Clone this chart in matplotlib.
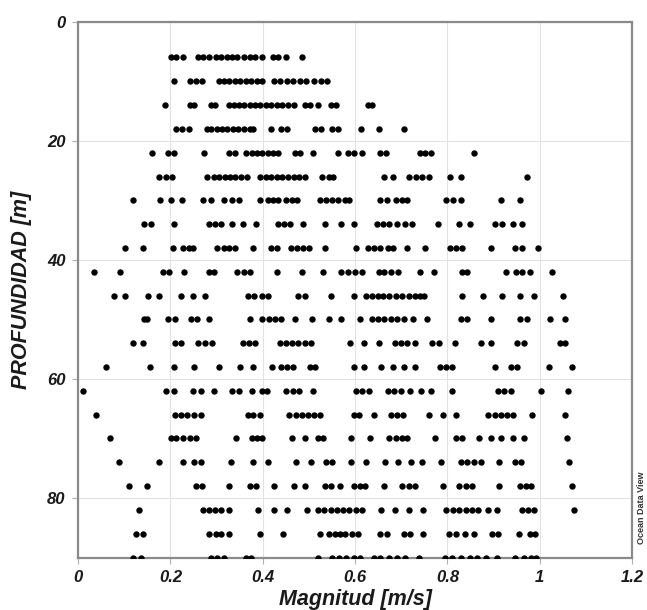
import matplotlib
matplotlib.use('Agg')
import matplotlib.pyplot as plt
from matplotlib.ticker import FuncFormatter

# Magnitude values (m/s) per depth level (m)
m06 = [0.202, 0.213, 0.227, 0.260, 0.271, 0.284, 0.298, 0.310, 0.322, 0.333, 0.345, 0.359,
       0.372, 0.384, 0.398, 0.422, 0.434, 0.451, 0.484]
m10 = [0.208, 0.243, 0.256, 0.269, 0.305, 0.316, 0.327, 0.339, 0.351, 0.363, 0.374, 0.388,
       0.399, 0.424, 0.438, 0.452, 0.465, 0.481, 0.494, 0.512, 0.527, 0.540]
m14 = [0.188, 0.243, 0.252, 0.287, 0.297, 0.326, 0.337, 0.349, 0.360, 0.372, 0.384, 0.395,
       0.407, 0.419, 0.430, 0.442, 0.455, 0.467, 0.492, 0.502, 0.519, 0.547, 0.558, 0.628, 0.636]
m18 = [0.213, 0.226, 0.240, 0.279, 0.289, 0.300, 0.312, 0.323, 0.336, 0.347, 0.359, 0.372,
       0.380, 0.419, 0.440, 0.453, 0.514, 0.527, 0.550, 0.564, 0.612, 0.651, 0.707]
m22 = [0.161, 0.194, 0.207, 0.273, 0.326, 0.339, 0.364, 0.376, 0.388, 0.399, 0.411, 0.422,
       0.434, 0.469, 0.481, 0.508, 0.564, 0.585, 0.597, 0.616, 0.653, 0.667, 0.740, 0.752,
       0.765, 0.857]
m26 = [0.176, 0.190, 0.204, 0.279, 0.295, 0.306, 0.318, 0.329, 0.341, 0.353, 0.366, 0.395,
       0.407, 0.419, 0.430, 0.442, 0.455, 0.467, 0.479, 0.491, 0.529, 0.543, 0.553, 0.663,
       0.682, 0.717, 0.731, 0.744, 0.760, 0.806, 0.829, 0.973]
m30 = [0.119, 0.178, 0.202, 0.225, 0.271, 0.287, 0.316, 0.333, 0.349, 0.395, 0.411, 0.422,
       0.434, 0.450, 0.463, 0.475, 0.523, 0.537, 0.550, 0.564, 0.578, 0.587, 0.655, 0.669,
       0.688, 0.702, 0.713, 0.798, 0.812, 0.829, 0.915, 0.957]
m34 = [0.143, 0.157, 0.208, 0.283, 0.297, 0.310, 0.333, 0.358, 0.385, 0.434, 0.446, 0.460,
       0.488, 0.535, 0.570, 0.597, 0.647, 0.661, 0.674, 0.690, 0.709, 0.723, 0.779, 0.826,
       0.849, 0.903, 0.919, 0.942, 0.961]
m38 = [0.101, 0.140, 0.205, 0.227, 0.240, 0.250, 0.302, 0.316, 0.328, 0.341, 0.380, 0.419,
       0.430, 0.461, 0.475, 0.488, 0.500, 0.535, 0.601, 0.628, 0.641, 0.655, 0.671, 0.682,
       0.713, 0.752, 0.806, 0.818, 0.832, 0.895, 0.946, 0.961, 0.996]
m42 = [0.035, 0.091, 0.184, 0.196, 0.230, 0.284, 0.295, 0.345, 0.359, 0.372, 0.430, 0.486,
       0.531, 0.570, 0.584, 0.599, 0.615, 0.651, 0.663, 0.678, 0.694, 0.740, 0.771, 0.832,
       0.843, 0.926, 0.948, 0.961, 0.979, 1.026]
m46 = [0.078, 0.101, 0.151, 0.176, 0.222, 0.248, 0.274, 0.368, 0.382, 0.398, 0.411, 0.477,
       0.491, 0.547, 0.597, 0.624, 0.636, 0.649, 0.661, 0.674, 0.688, 0.702, 0.716, 0.729,
       0.740, 0.750, 0.832, 0.876, 0.919, 0.957, 0.987, 1.050]
m50 = [0.142, 0.150, 0.194, 0.209, 0.244, 0.258, 0.283, 0.372, 0.399, 0.413, 0.426, 0.440,
       0.469, 0.506, 0.543, 0.570, 0.610, 0.636, 0.649, 0.663, 0.677, 0.690, 0.705, 0.725,
       0.756, 0.829, 0.843, 0.895, 0.957, 0.973, 1.023, 1.054]
m54 = [0.120, 0.140, 0.209, 0.222, 0.260, 0.274, 0.291, 0.357, 0.370, 0.384, 0.438, 0.450,
       0.463, 0.477, 0.491, 0.504, 0.589, 0.620, 0.651, 0.686, 0.700, 0.713, 0.729, 0.767,
       0.781, 0.816, 0.872, 0.895, 0.950, 0.965, 1.044, 1.054]
m58 = [0.060, 0.155, 0.208, 0.252, 0.306, 0.350, 0.378, 0.421, 0.440, 0.452, 0.465, 0.502,
       0.514, 0.597, 0.620, 0.657, 0.682, 0.705, 0.729, 0.785, 0.798, 0.809, 0.902, 0.938,
       0.951, 1.021, 1.070]
m62 = [0.010, 0.190, 0.207, 0.248, 0.266, 0.295, 0.333, 0.349, 0.376, 0.399, 0.409, 0.450,
       0.465, 0.478, 0.509, 0.601, 0.615, 0.630, 0.671, 0.684, 0.700, 0.719, 0.742, 0.764,
       0.809, 0.909, 0.922, 0.938, 1.002, 1.062]
m66 = [0.039, 0.209, 0.222, 0.236, 0.252, 0.267, 0.368, 0.380, 0.395, 0.457, 0.471, 0.484,
       0.498, 0.512, 0.523, 0.597, 0.609, 0.640, 0.678, 0.690, 0.703, 0.760, 0.791, 0.819,
       0.888, 0.902, 0.915, 0.928, 0.942, 0.984, 1.054]
m70 = [0.070, 0.202, 0.213, 0.227, 0.243, 0.256, 0.343, 0.376, 0.388, 0.399, 0.463, 0.491,
       0.519, 0.531, 0.591, 0.633, 0.674, 0.688, 0.702, 0.713, 0.773, 0.818, 0.832, 0.868,
       0.894, 0.917, 0.942, 0.965, 1.058]
m74 = [0.089, 0.176, 0.227, 0.252, 0.266, 0.332, 0.380, 0.412, 0.473, 0.504, 0.536, 0.550,
       0.591, 0.624, 0.664, 0.692, 0.721, 0.744, 0.787, 0.829, 0.843, 0.857, 0.872, 0.911,
       0.946, 0.959, 1.064]
m78 = [0.111, 0.150, 0.256, 0.269, 0.327, 0.372, 0.385, 0.425, 0.467, 0.492, 0.535, 0.548,
       0.567, 0.597, 0.610, 0.622, 0.663, 0.702, 0.716, 0.729, 0.791, 0.826, 0.840, 0.853,
       0.911, 0.957, 0.971, 0.982, 1.070]
m82 = [0.132, 0.270, 0.283, 0.297, 0.310, 0.328, 0.390, 0.424, 0.453, 0.496, 0.519, 0.533,
       0.547, 0.560, 0.574, 0.587, 0.601, 0.615, 0.657, 0.686, 0.717, 0.748, 0.798, 0.812,
       0.826, 0.840, 0.853, 0.866, 0.888, 0.907, 0.961, 0.974, 0.987, 1.074]
m86 = [0.126, 0.140, 0.284, 0.298, 0.310, 0.326, 0.395, 0.443, 0.523, 0.543, 0.556, 0.568,
       0.579, 0.593, 0.607, 0.655, 0.669, 0.705, 0.719, 0.747, 0.804, 0.818, 0.837, 0.857,
       0.897, 0.909, 0.956, 0.979, 0.990]
m90 = [0.120, 0.136, 0.287, 0.302, 0.316, 0.364, 0.374, 0.519, 0.550, 0.566, 0.581, 0.597,
       0.610, 0.640, 0.655, 0.674, 0.690, 0.709, 0.739, 0.795, 0.810, 0.829, 0.849, 0.864,
       0.884, 0.907, 0.946, 0.965, 0.981, 0.992]

depths = [6, 10, 14, 18, 22, 26, 30, 34, 38, 42, 46, 50, 54, 58, 62, 66, 70, 74, 78, 82, 86, 90]
rows = [m06, m10, m14, m18, m22, m26, m30, m34, m38, m42, m46, m50,
        m54, m58, m62, m66, m70, m74, m78, m82, m86, m90]

xticks = [0, 0.2, 0.4, 0.6, 0.8, 1.0, 1.2]
yticks = [0, 20, 40, 60, 80]

plt.rcParams['font.family'] = ['Liberation Sans', 'DejaVu Sans']

fig = plt.figure(figsize=(6.47, 6.10), dpi=100)
ax = fig.add_axes([0.1206, 0.086, 0.8564, 0.8784])

for d, mags in zip(depths, rows):
    ax.plot(mags, [d] * len(mags), 'o', color='black', ms=4.6, mec='black', mew=0, zorder=3)

ax.set_xlim(0, 1.2)
ax.set_ylim(90, 0)
ax.set_xticks(xticks)
ax.set_yticks(yticks)
ax.xaxis.set_major_formatter(FuncFormatter(lambda v, p: '{:g}'.format(v)))
ax.grid(True, color='#e2e2e2', lw=0.8, zorder=0)

for s in ax.spines.values():
    s.set_color('#8a8a8a')
    s.set_linewidth(1.6)

ax.tick_params(direction='out', length=4, width=0.8, color='#b0b0b0', pad=5)
for lab in ax.get_xticklabels() + ax.get_yticklabels():
    lab.set_fontsize(12)
    lab.set_fontweight('bold')
    lab.set_fontstyle('italic')
    lab.set_color('#1a1a1a')

ax.set_xlabel('Magnitud [m/s]', fontsize=15.5, fontweight='bold', fontstyle='italic',
              color='#1a1a1a', labelpad=3)
ax.set_ylabel('PROFUNDIDAD [m]', fontsize=15.5, fontweight='bold', fontstyle='italic',
              color='#1a1a1a', labelpad=11)

fig.text(0.991, 0.167, 'Ocean Data View', rotation=90, fontsize=6.5, fontweight='bold',
         color='#333333', ha='center', va='center')

fig.savefig('out.png', dpi=100)
